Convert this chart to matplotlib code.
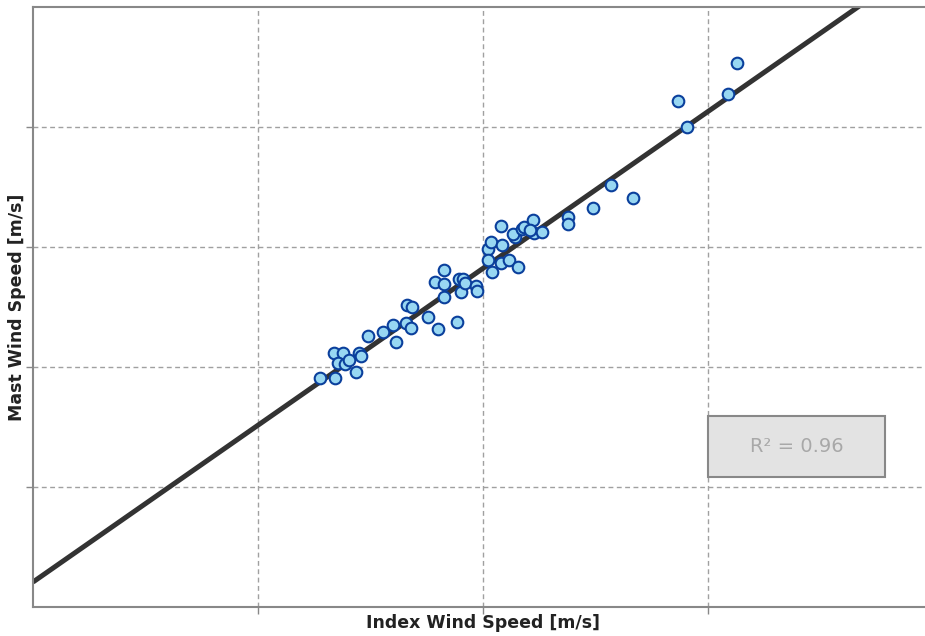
import numpy as np
import matplotlib
matplotlib.use('Agg')
import matplotlib.pyplot as plt
from matplotlib.patches import Rectangle

# index (x) and mast (y) wind speeds [m/s]
index_ws = [
    6.38, 6.71, 6.69, 6.88, 6.78, 6.93, 7.02, 7.17, 7.25, 7.28,
    7.45, 7.77, 8.01, 8.07, 8.29, 8.40, 8.30, 8.42, 8.78, 8.99,
    9.43, 8.93, 9.14, 9.14, 9.14, 9.46, 9.56, 9.50, 9.60, 9.84,
    9.87, 10.12, 10.18, 10.12, 10.19, 10.43, 10.39, 10.40, 10.58, 10.78,
    10.70, 10.67, 10.86, 10.90, 11.12, 11.13, 11.30, 11.04, 11.89, 11.89,
    12.44, 12.84, 13.33, 14.33, 14.53, 15.44, 15.64]

mast_ws = [
    9.54, 9.54, 10.60, 10.60, 10.17, 10.13, 10.29, 9.79, 10.60, 10.46,
    11.29, 11.44, 11.75, 11.05, 11.82, 11.61, 12.58, 12.52, 12.10, 11.58,
    11.88, 13.54, 14.06, 13.46, 12.93, 13.65, 13.67, 13.14, 13.49, 13.38,
    13.17, 14.90, 15.21, 14.46, 13.95, 15.08, 14.35, 15.88, 14.46, 14.17,
    15.43, 15.54, 15.74, 15.85, 16.11, 15.57, 15.61, 15.71, 16.26, 15.96,
    16.61, 17.58, 17.05, 21.08, 19.99, 21.36, 22.65]

fit_slope = 1.307
fit_icept = 1.04
r2_val = 0.96

x_ticks = [5, 10, 15]
y_ticks = [5, 10, 15, 20]


def main():
    fig = plt.figure(figsize=(9.25, 6.36), dpi=100)

    # axes run past the right edge of the figure, as in the reference
    ax = fig.add_axes([33 / 925, 29 / 636, 900 / 925, 600 / 636])

    ax.set_xlim(0, 20)
    ax.set_ylim(0, 25)

    ax.set_xticks(x_ticks)
    ax.set_yticks(y_ticks)
    ax.set_xticklabels([])
    ax.set_yticklabels([])
    ax.tick_params(colors='#888888', length=5, width=1)

    ax.grid(True, ls='--', color='#a0a0a0', lw=1.0, dashes=(3.5, 2.5))
    ax.set_axisbelow(True)

    for spn in ax.spines.values():
        spn.set_color('#888888')
        spn.set_linewidth(1.5)

    xs = np.array(ax.get_xlim())
    ax.plot(xs, fit_icept + fit_slope * xs, c='#333333', lw=3.6,
            zorder=2, solid_capstyle='butt')

    ax.scatter(index_ws, mast_ws, s=70, c='#98d7f2', edgecolors='#0a3f9c',
               linewidths=1.5, zorder=3)

    ax.add_patch(Rectangle(
        (0.75, 0.2167), 0.197, 0.1017, transform=ax.transAxes,
        facecolor='#e3e3e3', edgecolor='#888888', lw=1.5, zorder=4))

    ax.text(0.8485, 0.2675, f'R\u00b2 = {r2_val:.2f}', transform=ax.transAxes,
            ha='center', va='center', fontsize=14, color='#a8a8a8',
            zorder=5)

    ax.set_xlabel('Index Wind Speed [m/s]', fontsize=12.5,
                  fontweight='bold', color='#222222', va='center')
    ax.set_ylabel('Mast Wind Speed [m/s]', fontsize=12.5,
                  fontweight='bold', color='#222222', va='center')
    ax.xaxis.set_label_coords(0.5, -16 / 600)
    ax.yaxis.set_label_coords(-16 / 900, 0.5)

    fig.savefig('out.png', dpi=100)
    plt.close(fig)
    return


if __name__ == '__main__':
    main()
